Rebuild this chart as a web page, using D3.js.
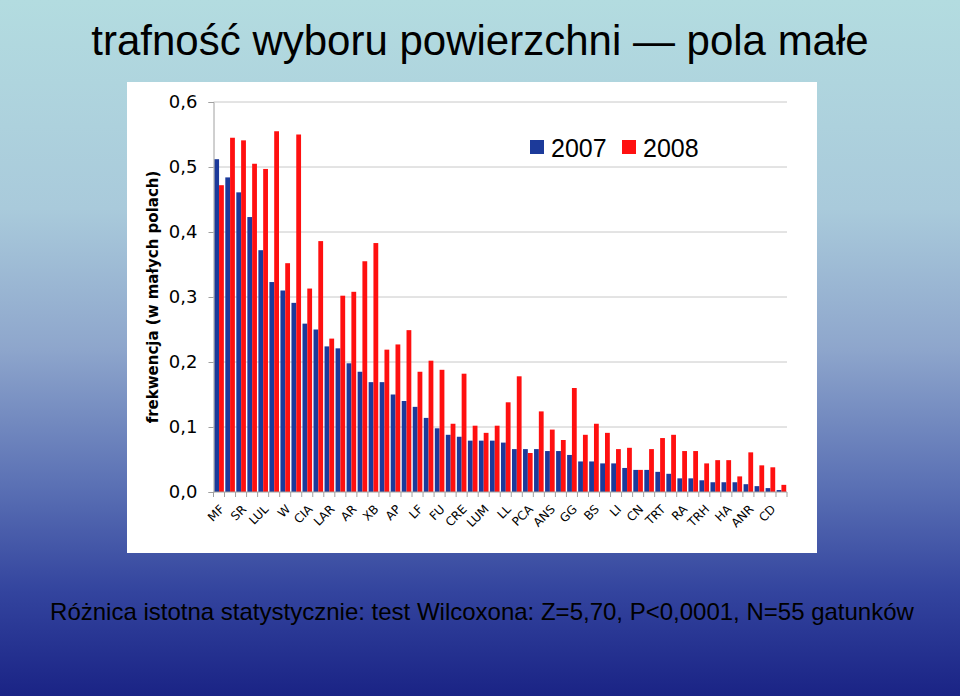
<!DOCTYPE html>
<html><head><meta charset="utf-8">
<script src="https://cdn.jsdelivr.net/npm/d3@7"></script>
<style>html,body{margin:0;padding:0;overflow:hidden;}</style>
</head><body>
<script>
const categories = ["MF","","SR","","LUL","","W","","CIA","","LAR","","AR","","XB","","AP","","LF","","FU","","CRE","","LUM","","LL","","PCA","","ANS","","GG","","BS","","LI","","CN","","TRT","","RA","","TRH","","HA","","ANR","","CD",""];
const v2007 = [0.512,0.484,0.461,0.423,0.372,0.323,0.310,0.291,0.259,0.250,
  0.224,0.221,0.198,0.185,0.169,0.169,0.150,0.140,0.131,0.114,
  0.098,0.088,0.085,0.079,0.079,0.079,0.076,0.066,0.066,0.066,
  0.063,0.063,0.057,0.047,0.047,0.044,0.044,0.037,0.034,0.034,
  0.031,0.028,0.021,0.021,0.018,0.015,0.015,0.015,0.012,0.009,
  0.006,0.003];
const v2008 = [0.472,0.545,0.541,0.505,0.497,0.555,0.352,0.550,0.313,0.386,
  0.236,0.302,0.308,0.355,0.383,0.219,0.227,0.249,0.185,0.202,
  0.188,0.105,0.182,0.102,0.091,0.102,0.138,0.178,0.060,0.124,
  0.096,0.080,0.160,0.088,0.105,0.091,0.066,0.068,0.034,0.066,
  0.083,0.088,0.063,0.063,0.044,0.049,0.049,0.024,0.061,0.041,
  0.038,0.011];
const seriesNames = ["2007","2008"];
const seriesColors = ["#1c3a9a","#ff1010"];
const yTicks = [0,0.1,0.2,0.3,0.4,0.5,0.6];
const titleText = "trafność wyboru powierzchni \u2014 pola małe";
const noteText = "Różnica istotna statystycznie: test Wilcoxona: Z=5,70, P<0,0001, N=55 gatunków";
const yTitle = "frekwencja (w małych polach)";

const W = 960, H = 696;
const svg = d3.select("body").append("svg").attr("width", W).attr("height", H);
const defs = svg.append("defs");
const grad = defs.append("linearGradient").attr("id","bg").attr("x1",0).attr("y1",0).attr("x2",0).attr("y2",1);
[[0,"#b3dce0"],[0.3,"#a9cadb"],[0.5,"#8ea6cc"],[0.7,"#5a70b4"],[0.85,"#33449e"],[1,"#1a2385"]]
  .forEach(([o,c]) => grad.append("stop").attr("offset",o).attr("stop-color",c));
svg.append("rect").attr("width",W).attr("height",H).attr("fill","url(#bg)");

svg.append("text").attr("x",480).attr("y",55).attr("text-anchor","middle")
  .attr("font-family","Liberation Sans, Arial, sans-serif").attr("font-size",42).attr("fill","#000")
  .text(titleText);

svg.append("text").attr("x",482).attr("y",620).attr("text-anchor","middle")
  .attr("font-family","Liberation Sans, Arial, sans-serif").attr("font-size",24).attr("fill","#000")
  .text(noteText);

// chart area
svg.append("rect").attr("x",127).attr("y",82).attr("width",690).attr("height",471).attr("fill","#fff");

const x0 = 213.5, x1 = 787, yTop = 102, yBot = 492;
const x = d3.scaleBand().domain(d3.range(categories.length)).range([x0, x1]).paddingInner(0.13).paddingOuter(0.07);
const xs = d3.scaleBand().domain([0,1]).range([0, x.bandwidth()]);
const y = d3.scaleLinear().domain([0,0.6]).range([yBot, yTop]);

// gridlines
svg.append("g").selectAll("line").data(yTicks.filter(d=>d>0)).join("line")
  .attr("x1",x0).attr("x2",x1).attr("y1",d=>y(d)).attr("y2",d=>y(d))
  .attr("stroke","#c8c8c8").attr("stroke-width",1);

// bars
const groups = svg.append("g").selectAll("g").data(categories.map((c,i)=>i)).join("g")
  .attr("transform", i => `translate(${x(i)},0)`);
[v2007, v2008].forEach((vals, s) => {
  groups.append("rect")
    .attr("x", xs(s)).attr("width", xs.bandwidth())
    .attr("y", i => y(vals[i])).attr("height", i => yBot - y(vals[i]))
    .attr("fill", seriesColors[s]);
});

// y axis
const yAxis = d3.axisLeft(y).tickValues(yTicks).tickFormat(d => d3.format(".1f")(d).replace(".", ",")).tickSize(5).tickPadding(11);
const gy = svg.append("g").attr("transform",`translate(${x0},0)`).call(yAxis);
gy.select(".domain").attr("stroke","#a0a0a0");
gy.selectAll(".tick line").attr("stroke","#a0a0a0");
gy.selectAll("text").attr("font-family","DejaVu Sans, Verdana, sans-serif").attr("font-size",18).attr("fill","#000");

// x axis
const xTickScale = d3.scaleLinear().domain([0, categories.length]).range([x0, x1]);
svg.append("line").attr("x1",x0).attr("x2",x1).attr("y1",yBot).attr("y2",yBot).attr("stroke","#a0a0a0");
svg.append("g").selectAll("line").data(d3.range(categories.length+1)).join("line")
  .attr("x1",d=>xTickScale(d)).attr("x2",d=>xTickScale(d)).attr("y1",yBot).attr("y2",yBot+5)
  .attr("stroke","#a0a0a0");
svg.append("g").selectAll("text").data(categories.map((c,i)=>({c,i})).filter(d=>d.c)).join("text")
  .attr("transform", d => `translate(${x(d.i)+x.bandwidth()/2+3},${yBot+15}) rotate(-45)`)
  .attr("text-anchor","end").attr("dy","0.35em")
  .attr("font-family","DejaVu Sans, Verdana, sans-serif").attr("font-size",12).attr("fill","#000")
  .text(d=>d.c);

// y title
svg.append("text").attr("transform","translate(158,297) rotate(-90)").attr("text-anchor","middle")
  .attr("font-family","DejaVu Sans, Verdana, sans-serif").attr("font-size",15).attr("font-weight","bold").attr("fill","#000")
  .text(yTitle);

// legend
const leg = svg.append("g");
const legX = [530, 622];
seriesNames.forEach((n,i) => {
  leg.append("rect").attr("x",legX[i]).attr("y",140).attr("width",14).attr("height",14).attr("fill",seriesColors[i]);
  leg.append("text").attr("x",legX[i]+21).attr("y",157)
    .attr("font-family","Liberation Sans, Arial, sans-serif").attr("font-size",25).attr("fill","#000").text(n);
});
</script>
</body></html>
